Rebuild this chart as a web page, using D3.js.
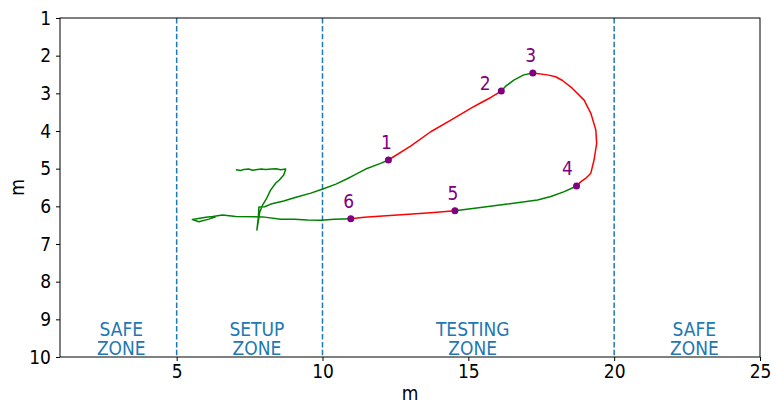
<!DOCTYPE html>
<html><head><meta charset="utf-8">
<script src="https://cdn.jsdelivr.net/npm/d3@7"></script>
<style>
html,body{margin:0;padding:0;background:#fff;}
text{font-family:"DejaVu Sans Condensed","DejaVu Sans",sans-serif;font-stretch:condensed;}
</style></head>
<body>
<svg id="chart" width="771" height="401"></svg>
<script>
// ---- data ----
const trackX = [7.03,7.20,7.30,7.47,7.60,7.71,7.90,8.05,8.25,8.40,8.57,8.74,
  8.67,8.52,8.40,8.22,8.09,7.95,7.85,7.75,7.80,7.82,8.02,
  8.23,8.67,9.09,9.60,10.01,10.46,10.97,11.48,11.99,12.26,
  13.02,13.71,14.40,15.08,15.43,15.77,16.13,
  16.28,16.56,16.90,17.21,
  17.71,17.99,18.23,18.57,18.97,19.20,19.37,19.40,19.31,19.20,19.02,18.85,18.71,
  18.29,17.83,17.37,16.34,15.42,14.54,
  13.71,12.57,11.43,10.97,
  10.40,9.94,9.48,9.03,8.57,7.95,7.03,6.57,6.24,6.00,5.54,5.76,6.10,6.34];
const trackY = [5.03,5.05,5.02,5.01,5.04,5.03,5.01,5.02,5.01,5.00,5.03,5.01,
  5.17,5.30,5.38,5.57,5.78,5.96,6.15,6.63,6.30,6.02,6.01,
  5.94,5.86,5.76,5.65,5.54,5.41,5.22,5.01,4.86,4.77,
  4.40,4.02,3.71,3.40,3.25,3.11,2.94,
  2.81,2.65,2.51,2.46,
  2.51,2.56,2.66,2.87,3.18,3.53,3.97,4.33,4.77,5.12,5.26,5.35,5.46,
  5.61,5.74,5.83,5.94,6.03,6.12,
  6.17,6.23,6.29,6.33,
  6.34,6.37,6.36,6.34,6.34,6.28,6.27,6.23,6.27,6.29,6.35,6.41,6.34,6.28];
const checkpointIdx = [32,39,43,56,62,66];
const checkpointLabels = ["1","2","3","4","5","6"];
const zoneBounds = [5,10,20];
const zoneNames = [["SAFE","ZONE"],["SETUP","ZONE"],["TESTING","ZONE"],["SAFE","ZONE"]];
const zoneCenters = [3.1,7.75,15.15,22.75];
const xTicks = [5,10,15,20,25];
const yTicks = [1,2,3,4,5,6,7,8,9,10];

// ---- layout ----
const W=771,H=401,m={l:60,r:11,t:18,b:44};
const svg=d3.select("#chart");
const x=d3.scaleLinear().domain([1,25]).range([m.l,W-m.r]);
const y=d3.scaleLinear().domain([1,10]).range([m.t,H-m.b]);
const fs=19;

// zone lines
svg.selectAll("line.zone").data(zoneBounds).join("line")
  .attr("x1",d=>x(d)).attr("x2",d=>x(d)).attr("y1",m.t).attr("y2",H-m.b)
  .attr("stroke","#1f77b4").attr("stroke-width",1.5).attr("stroke-dasharray","5.5,2.4");

// zone labels
zoneNames.forEach((lines,i)=>{
  lines.forEach((s,j)=>{
    svg.append("text").attr("x",x(zoneCenters[i])).attr("y",336+j*19)
      .attr("text-anchor","middle").attr("font-size",fs).attr("fill","#1f77b4").text(s);
  });
});

// track segments
const pts=trackX.map((v,i)=>[v,trackY[i]]);
const breaks=[0,...checkpointIdx,pts.length-1];
const line=d3.line().x(d=>x(d[0])).y(d=>y(d[1]));
for(let k=0;k<breaks.length-1;k++){
  const seg=pts.slice(breaks[k],breaks[k+1]+1);
  svg.append("path").attr("d",line(seg)).attr("fill","none")
    .attr("stroke",k%2===0?"green":"red").attr("stroke-width",1.5)
    .attr("stroke-linejoin","round");
}

// checkpoints
const cps=checkpointIdx.map((idx,i)=>({x:trackX[idx],y:trackY[idx],lab:checkpointLabels[i]}));
svg.selectAll("circle.cp").data(cps).join("circle")
  .attr("cx",d=>x(d.x)).attr("cy",d=>y(d.y)).attr("r",3.5).attr("fill","purple");
const off={"1":[-2,-11],"2":[-16,-1],"3":[-2,-11],"4":[-9,-11],"5":[-2,-11],"6":[-2,-11]};
svg.selectAll("text.cpl").data(cps).join("text")
  .attr("x",d=>x(d.x)+off[d.lab][0]).attr("y",d=>y(d.y)+off[d.lab][1])
  .attr("text-anchor","middle").attr("font-size",fs).attr("fill","purple").text(d=>d.lab);

// axes
const gx=svg.append("g").attr("transform",`translate(0,${H-m.b})`)
  .call(d3.axisBottom(x).tickValues(xTicks).tickSize(4).tickPadding(4));
const gy=svg.append("g").attr("transform",`translate(${m.l},0)`)
  .call(d3.axisLeft(y).tickValues(yTicks).tickSize(4).tickPadding(5));
[gx,gy].forEach(g=>{
  g.selectAll("text").attr("font-size",fs).attr("font-family",null).attr("fill","#000");
  g.select(".domain").remove();
  g.selectAll(".tick line").attr("stroke","#000");
});
svg.append("rect").attr("x",m.l).attr("y",m.t).attr("width",W-m.r-m.l).attr("height",H-m.b-m.t)
  .attr("fill","none").attr("stroke","#000").attr("stroke-width",1);

svg.append("text").attr("x",(m.l+W-m.r)/2).attr("y",H-1).attr("text-anchor","middle")
  .attr("font-size",fs).text("m");
svg.append("text").attr("transform",`translate(24,${(m.t+H-m.b)/2}) rotate(-90)`)
  .attr("text-anchor","middle").attr("font-size",fs).text("m");
</script>
</body></html>
